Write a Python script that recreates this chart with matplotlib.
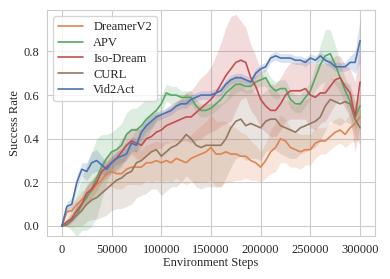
import numpy as np
import matplotlib
matplotlib.use('Agg')
from matplotlib import pyplot as plt
import seaborn as sns

sns.set_style('whitegrid')
plt.rcParams['font.family'] = ['Liberation Serif', 'DejaVu Serif']
plt.rcParams['font.size'] = 9

steps = np.arange(0, 300001, 5000)

# mean success rates, read every 5000 env steps
dreamer = [0.0, 0.065, 0.07, 0.1, 0.12, 0.14, 0.16, 0.19, 0.21, 0.24, 0.25, 0.24, 0.24, 0.26, 0.27, 0.27,
           0.27, 0.29, 0.29, 0.30, 0.29, 0.30, 0.29, 0.31, 0.30, 0.29, 0.31, 0.32, 0.33, 0.34, 0.36, 0.33,
           0.33, 0.34, 0.33, 0.33, 0.32, 0.32, 0.30, 0.29, 0.27, 0.30, 0.34, 0.36, 0.40, 0.39, 0.36, 0.35,
           0.34, 0.35, 0.35, 0.38, 0.39, 0.39, 0.41, 0.43, 0.44, 0.42, 0.45, 0.47, 0.50]
apv = [0.0, 0.01, 0.03, 0.05, 0.1, 0.13, 0.17, 0.22, 0.27, 0.31, 0.34, 0.35, 0.37, 0.42, 0.44, 0.44,
       0.46, 0.49, 0.51, 0.53, 0.56, 0.61, 0.60, 0.60, 0.59, 0.59, 0.59, 0.55, 0.53, 0.53, 0.54, 0.56,
       0.58, 0.61, 0.63, 0.65, 0.65, 0.64, 0.64, 0.66, 0.67, 0.68, 0.64, 0.62, 0.63, 0.63, 0.58, 0.56,
       0.56, 0.59, 0.62, 0.68, 0.74, 0.78, 0.79, 0.74, 0.68, 0.62, 0.57, 0.50, 0.55]
isodream = [0.0, 0.02, 0.035, 0.07, 0.1, 0.15, 0.17, 0.2, 0.25, 0.27, 0.29, 0.31, 0.34, 0.37, 0.39, 0.38,
            0.37, 0.40, 0.41, 0.43, 0.44, 0.46, 0.47, 0.48, 0.49, 0.50, 0.50, 0.52, 0.54, 0.56, 0.58, 0.61,
            0.65, 0.69, 0.72, 0.75, 0.76, 0.75, 0.68, 0.64, 0.58, 0.55, 0.53, 0.53, 0.56, 0.60, 0.62, 0.62,
            0.62, 0.63, 0.60, 0.59, 0.61, 0.61, 0.64, 0.67, 0.68, 0.64, 0.61, 0.50, 0.66]
curl = [0.0, 0.005, 0.025, 0.05, 0.07, 0.1, 0.12, 0.13, 0.15, 0.17, 0.19, 0.21, 0.22, 0.24, 0.25, 0.29,
        0.30, 0.32, 0.34, 0.35, 0.32, 0.34, 0.36, 0.37, 0.39, 0.42, 0.40, 0.37, 0.36, 0.37, 0.37, 0.37,
        0.37, 0.40, 0.45, 0.48, 0.49, 0.46, 0.47, 0.46, 0.45, 0.48, 0.49, 0.49, 0.46, 0.45, 0.44, 0.43,
        0.45, 0.46, 0.47, 0.48, 0.50, 0.55, 0.58, 0.57, 0.56, 0.57, 0.56, 0.49, 0.45]
vid2act = [0.0, 0.09, 0.1, 0.2, 0.26, 0.25, 0.29, 0.30, 0.28, 0.26, 0.29, 0.31, 0.32, 0.33, 0.38, 0.37,
           0.43, 0.46, 0.48, 0.50, 0.51, 0.52, 0.53, 0.55, 0.56, 0.56, 0.58, 0.59, 0.60, 0.60, 0.60, 0.61,
           0.62, 0.65, 0.67, 0.68, 0.68, 0.67, 0.66, 0.70, 0.72, 0.73, 0.77, 0.78, 0.77, 0.77, 0.77, 0.76,
           0.76, 0.75, 0.77, 0.76, 0.78, 0.76, 0.75, 0.73, 0.73, 0.73, 0.75, 0.75, 0.85]

# half-width of the shaded band
dreamer_sd = [0.0, 0.02, 0.03, 0.03, 0.04, 0.04, 0.05, 0.05, 0.06, 0.06, 0.07, 0.07, 0.07, 0.07, 0.08, 0.08,
              0.08, 0.08, 0.09, 0.09, 0.09, 0.09, 0.09, 0.09, 0.1, 0.1, 0.11, 0.12, 0.13, 0.14, 0.15, 0.15,
              0.15, 0.14, 0.13, 0.12, 0.11, 0.1, 0.09, 0.08, 0.07, 0.08, 0.1, 0.11, 0.11, 0.1, 0.09, 0.08,
              0.08, 0.07, 0.07, 0.07, 0.06, 0.06, 0.06, 0.06, 0.06, 0.06, 0.07, 0.08, 0.1]
apv_sd = [0.0, 0.01, 0.05, 0.1, 0.12, 0.15, 0.17, 0.18, 0.15, 0.11, 0.09, 0.1, 0.1, 0.1, 0.1, 0.1,
          0.1, 0.09, 0.07, 0.05, 0.04, 0.04, 0.04, 0.04, 0.03, 0.03, 0.03, 0.03, 0.03, 0.03, 0.03, 0.03,
          0.03, 0.04, 0.04, 0.04, 0.03, 0.03, 0.03, 0.03, 0.03, 0.04, 0.04, 0.04, 0.04, 0.04, 0.04, 0.04,
          0.04, 0.04, 0.04, 0.06, 0.09, 0.12, 0.11, 0.09, 0.07, 0.06, 0.06, 0.06, 0.06]
isodream_sd = [0.0, 0.02, 0.02, 0.03, 0.03, 0.04, 0.04, 0.04, 0.05, 0.05, 0.05, 0.05, 0.06, 0.06, 0.06, 0.07,
               0.07, 0.07, 0.07, 0.08, 0.08, 0.08, 0.09, 0.09, 0.1, 0.11, 0.12, 0.13, 0.14, 0.14, 0.15, 0.17,
               0.19, 0.22, 0.24, 0.22, 0.18, 0.16, 0.15, 0.14, 0.13, 0.12, 0.12, 0.12, 0.12, 0.12, 0.13, 0.13,
               0.13, 0.14, 0.15, 0.15, 0.14, 0.13, 0.12, 0.11, 0.1, 0.1, 0.11, 0.16, 0.2]
curl_sd = [0.0, 0.01, 0.03, 0.05, 0.07, 0.08, 0.09, 0.1, 0.11, 0.12, 0.12, 0.13, 0.14, 0.15, 0.15, 0.16,
           0.16, 0.17, 0.17, 0.18, 0.18, 0.18, 0.18, 0.19, 0.19, 0.19, 0.19, 0.19, 0.19, 0.19, 0.19, 0.19,
           0.19, 0.18, 0.18, 0.17, 0.17, 0.16, 0.16, 0.15, 0.15, 0.14, 0.14, 0.14, 0.13, 0.13, 0.13, 0.12,
           0.12, 0.12, 0.12, 0.12, 0.11, 0.11, 0.1, 0.1, 0.1, 0.09, 0.09, 0.08, 0.08]
vid2act_sd = [0.0, 0.02, 0.03, 0.03, 0.03, 0.04, 0.05, 0.05, 0.04, 0.03, 0.03, 0.03, 0.03, 0.03, 0.03, 0.03,
              0.03, 0.03, 0.03, 0.02, 0.02, 0.02, 0.02, 0.02, 0.02, 0.02, 0.02, 0.02, 0.02, 0.02, 0.02, 0.02,
              0.02, 0.02, 0.02, 0.02, 0.02, 0.02, 0.02, 0.02, 0.02, 0.02, 0.02, 0.02, 0.02, 0.02, 0.02, 0.02,
              0.02, 0.02, 0.02, 0.02, 0.02, 0.02, 0.02, 0.02, 0.02, 0.02, 0.03, 0.05, 0.1]

labels = ['DreamerV2', 'APV', 'Iso-Dream', 'CURL', 'Vid2Act']
means = [dreamer, apv, isodream, curl, vid2act]
sds = [dreamer_sd, apv_sd, isodream_sd, curl_sd, vid2act_sd]
colors = ['#DD8452', '#55A868', '#C44E52', '#937860', '#4C72B0']

fig = plt.figure(figsize=(3.9, 2.79), dpi=100)
ax = fig.add_axes([0.1205, 0.154, 0.841, 0.810])

for lab, m, s, c in zip(labels, means, sds, colors):
    m = np.array(m)
    s = np.array(s)
    ax.fill_between(steps, m - s, m + s, color=c, alpha=0.2, linewidth=0)
    ax.plot(steps, m, color=c, linewidth=1.2, label=lab)

ax.set_xlim(-15000, 315000)
ax.set_ylim(-0.046, 0.99)
ax.set_xticks([0, 50000, 100000, 150000, 200000, 250000, 300000])
ax.set_yticks([0.0, 0.2, 0.4, 0.6, 0.8])
ax.set_xlabel('Environment Steps', labelpad=1)
ax.set_ylabel('Success Rate', labelpad=2)
ax.tick_params(labelsize=9, pad=2)
ax.legend(loc='upper left', fontsize=9, labelspacing=0.3)

plt.savefig('out.png', dpi=100)
plt.close()
